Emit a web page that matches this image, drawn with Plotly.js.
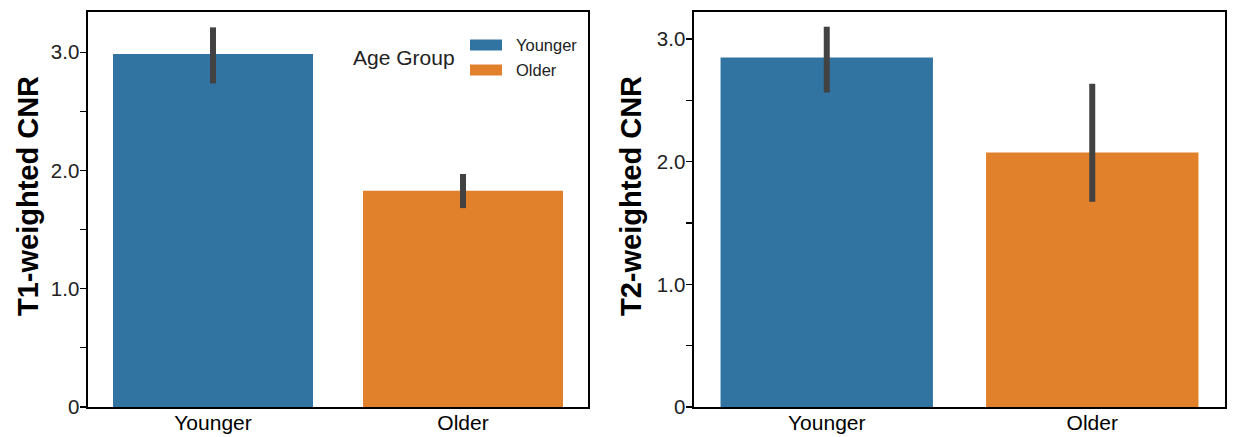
<!DOCTYPE html>
<html>
<head>
<meta charset="utf-8">
<script src="https://cdn.plot.ly/plotly-3.0.1.min.js"></script>
<style>html,body{margin:0;padding:0;background:#fff;}#chart{width:1233px;height:437px;}</style>
</head>
<body>
<div id="chart"></div>
<script>
// ---- data ----
const groups = ["Younger", "Older"];
const colors = ["#3274a1", "#e1812c"];

const t1Mean = [2.984, 1.828];
const t1CiLow = [2.736, 1.682];
const t1CiHigh = [3.21, 1.97];

const t2Mean = [2.849, 2.075];
const t2CiLow = [2.564, 1.673];
const t2CiHigh = [3.10, 2.635];

const yTickVals = [0, 0.5, 1, 1.5, 2, 2.5, 3];
const yTickText = ["0", "", "1.0", "", "2.0", "", "3.0"];

const yTitles = ["T1-weighted CNR", "T2-weighted CNR"];
const legendTitle = "Age Group";

function barTrace(mean, lo, hi, xa, ya) {
  return {
    type: "bar",
    x: groups,
    y: mean,
    xaxis: xa,
    yaxis: ya,
    width: 0.8,
    marker: {color: colors, line: {width: 0}},
    showlegend: false,
    hoverinfo: "x+y",
    error_y: {
      type: "data",
      symmetric: false,
      array: mean.map((m, i) => hi[i] - m),
      arrayminus: mean.map((m, i) => m - lo[i]),
      color: "#424242",
      thickness: 6,
      width: 0
    }
  };
}

const data = [
  barTrace(t1Mean, t1CiLow, t1CiHigh, "x", "y"),
  barTrace(t2Mean, t2CiLow, t2CiHigh, "x2", "y2")
];

const font = "Liberation Sans, Arial, sans-serif";

function yAxis(range, anchor) {
  return {
    anchor: anchor,
    range: range,
    tickmode: "array",
    tickvals: yTickVals,
    ticktext: yTickText,
    ticks: "outside",
    ticklen: 6,
    tickwidth: 1.2,
    tickcolor: "#000",
    ticklabelstandoff: -3,
    showline: true,
    mirror: true,
    linecolor: "#000",
    linewidth: 1.6,
    showgrid: false,
    zeroline: false,
    automargin: false,
    tickfont: {family: font, size: 20.5, color: "#222"}
  };
}

function xAxis(domain, anchor) {
  return {
    domain: domain,
    anchor: anchor,
    range: [-0.5, 1.5],
    type: "category",
    ticks: "",
    ticklabelstandoff: -4,
    showline: true,
    mirror: true,
    linecolor: "#000",
    linewidth: 1.6,
    showgrid: false,
    zeroline: false,
    automargin: false,
    tickfont: {family: font, size: 21, color: "#000"}
  };
}

const W = 1137, H = 395, L = 88, B = 407;
const px = v => (v - L) / W;
const py = v => (B - v) / H;

const shapes = [];
const annotations = [
  {text: yTitles[0], xref: "paper", yref: "paper", x: px(28), y: py(196), textangle: -90,
   xanchor: "center", yanchor: "middle", showarrow: false,
   font: {family: font, size: 29, color: "#000", weight: "bold"}},
  {text: yTitles[1], xref: "paper", yref: "paper", x: px(631), y: py(196), textangle: -90,
   xanchor: "center", yanchor: "middle", showarrow: false,
   font: {family: font, size: 29, color: "#000", weight: "bold"}},
  {text: legendTitle, xref: "paper", yref: "paper", x: px(351), y: py(58),
   xanchor: "left", yanchor: "middle", showarrow: false, font: {family: font, size: 21, color: "#222"}}
];
// manual legend (patches + labels), placed inside the left panel
groups.forEach((g, i) => {
  const cy = 45 + i * 25;
  shapes.push({type: "rect", xref: "paper", yref: "paper",
    x0: px(470), x1: px(502), y0: py(cy + 5.5), y1: py(cy - 5.5),
    fillcolor: colors[i], line: {width: 0}});
  annotations.push({text: g, xref: "paper", yref: "paper", x: px(514), y: py(cy),
    xanchor: "left", yanchor: "middle", showarrow: false, font: {family: font, size: 16.5, color: "#222"}});
});

const layout = {
  width: 1233,
  height: 437,
  margin: {l: 88, r: 8, t: 12, b: 30, pad: 0},
  paper_bgcolor: "#fff",
  plot_bgcolor: "#fff",
  showlegend: false,
  bargap: 0.2,
  xaxis: xAxis([0, 500 / W], "y"),
  yaxis: yAxis([0, 3.34], "x"),
  xaxis2: xAxis([606 / W, 1], "y2"),
  yaxis2: yAxis([0, 3.22], "x2"),
  shapes: shapes,
  annotations: annotations
};

Plotly.newPlot("chart", data, layout, {displayModeBar: false, staticPlot: true});
</script>
</body>
</html>
